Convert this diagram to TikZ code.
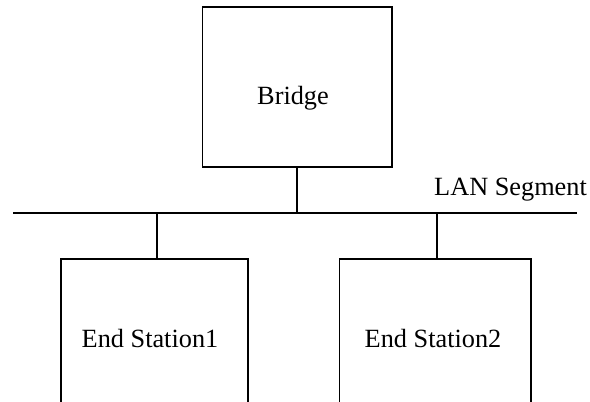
\documentclass[tikz,border=0pt]{standalone}
\usepackage{fontspec}
\setmainfont{Liberation Serif}
\begin{document}
\begin{tikzpicture}[x=1pt,y=1pt,
  boxstyle/.style={draw,line width=1.8pt,rectangle,inner sep=0pt},
  wire/.style={line width=1.8pt},
  lbl/.style={inner sep=0pt,font=\fontsize{26.3}{31}\selectfont}]
\useasboundingbox (0,0) rectangle (590,402);
\node[boxstyle,minimum width=189.5pt,minimum height=160pt] (bridge) at (297.25,315) {};
\node[boxstyle,minimum width=187.6pt,minimum height=170pt] (es1) at (154.5,58) {};
\node[boxstyle,minimum width=191.5pt,minimum height=170pt] (es2) at (435.25,58) {};
\coordinate (lanL) at (13,189);
\coordinate (lanR) at (577,189);
\draw[wire] (lanL) -- (lanR);
\draw[wire] (bridge.south) -- (bridge.south |- lanL);
\draw[wire] ([xshift=2.2pt]es1.north) -- ([xshift=2.2pt]es1.north |- lanL);
\draw[wire] ([xshift=2pt]es2.north) -- ([xshift=2pt]es2.north |- lanL);
\node[lbl,anchor=base] (tbridge) at (293,297) {Bridge};
\node[lbl,anchor=base] (tes1) at (150,54) {End Station1};
\node[lbl,anchor=base] (tes2) at (433,54) {End Station2};
\node[lbl,anchor=base west] (tlan) at (434,206) {LAN Segment};
\end{tikzpicture}
\end{document}
